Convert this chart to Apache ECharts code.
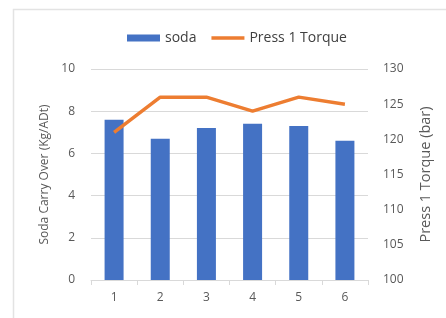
<!DOCTYPE html>
<html>
<head>
<meta charset="utf-8">
<script src="https://cdn.jsdelivr.net/npm/echarts@6/dist/echarts.min.js"></script>
<style>
  html, body { margin: 0; padding: 0; background: #fff; }
  #myChart1 { width: 446px; height: 318px; }
</style>
</head>
<body>
<div id="myChart1"></div>
<script>
// 数据
const categories = ['1', '2', '3', '4', '5', '6'];
const sodaValues = [7.6, 6.7, 7.2, 7.4, 7.3, 6.6];
const torqueValues = [121, 126, 126, 124, 126, 125];

const myChart1 = echarts.init(document.getElementById('myChart1'));
const labelFont = { color: '#595959', fontSize: 12, fontFamily: 'Open Sans' };

myChart1.setOption({
  animation: false,
  color: ['#4472C4', '#ED7D31'],
  graphic: [
    { // 外框
      type: 'rect',
      shape: { x: 13.5, y: 9.5, width: 460, height: 340 },
      style: { fill: 'none', stroke: '#e3e3e3', lineWidth: 1.5 },
      silent: true
    }
  ],
  legend: {
    top: 26,
    left: 122,
    itemGap: 15,
    itemWidth: 33,
    itemHeight: 7,
    textStyle: { color: '#404040', fontSize: 14, fontFamily: 'Open Sans' },
    data: [
      { name: 'soda', icon: 'rect' },
      { name: 'Press 1 Torque', icon: 'path://M0,0 L40,0 L40,4 L0,4 Z', itemStyle: { color: '#ED7D31' } }
    ]
  },
  grid: {
    left: 91,
    right: 78,
    top: 69,
    bottom: 38
  },
  xAxis: {
    type: 'category',
    data: categories,
    axisLine: { lineStyle: { color: '#d9d9d9' } },
    axisTick: { show: true, length: 5, lineStyle: { color: '#d9d9d9' } },
    axisLabel: Object.assign({ margin: 12 }, labelFont)
  },
  yAxis: [
    {
      type: 'value',
      min: 0,
      max: 10,
      interval: 2,
      name: 'Soda Carry Over (Kg/ADt)',
      nameLocation: 'middle',
      nameGap: 40,
      nameTextStyle: labelFont,
      axisLine: { show: false },
      axisTick: { show: false },
      axisLabel: Object.assign({ margin: 16 }, labelFont),
      splitLine: { lineStyle: { color: '#d9d9d9' } }
    },
    {
      type: 'value',
      min: 100,
      max: 130,
      interval: 5,
      position: 'right',
      name: 'Press 1 Torque (bar)',
      nameLocation: 'middle',
      nameGap: 50,
      nameRotate: 90,
      nameTextStyle: Object.assign({}, labelFont, { fontSize: 14.5 }),
      axisLine: { show: false },
      axisTick: { show: false },
      axisLabel: Object.assign({ margin: 15 }, labelFont),
      splitLine: { show: false }
    }
  ],
  series: [
    {
      name: 'soda',
      type: 'bar',
      yAxisIndex: 0,
      barWidth: 19,
      data: sodaValues
    },
    {
      name: 'Press 1 Torque',
      type: 'line',
      yAxisIndex: 1,
      symbol: 'none',
      lineStyle: { width: 3.5, color: '#ED7D31' },
      data: torqueValues
    }
  ]
});
</script>
</body>
</html>
